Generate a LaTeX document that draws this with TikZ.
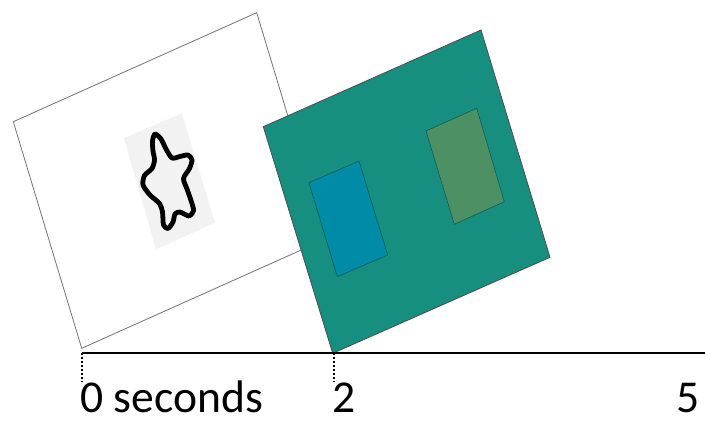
\documentclass[tikz,border=0pt]{standalone}
\usepackage{fontspec}
\setmainfont{Carlito}
\usepackage{xcolor}
\usepackage{tikz}
\usetikzlibrary{positioning, calc}

\definecolor{slidegreen}{RGB}{23,143,128}
\definecolor{boxblue}{RGB}{0,139,166}
\definecolor{boxgreen}{RGB}{76,144,100}
\definecolor{backgray}{RGB}{242,242,242}

\begin{document}
\begin{tikzpicture}[x=0.5pt, y=-0.5pt]
    \tikzstyle{frame} = [draw=black!55, line width=0.4pt, fill=white]
    \tikzstyle{slide} = [draw=black!70, line width=0.4pt, fill=slidegreen]
    \tikzstyle{inner} = [draw=black!35!slidegreen, line width=0.3pt]
    \tikzstyle{axis} = [line width=1pt]
    \tikzstyle{tick} = [line width=1pt, dash pattern=on 1pt off 1pt]
    \tikzstyle{label} = [inner sep=0pt, anchor=base west, text depth=0pt, font=\fontsize{22.8}{27}\selectfont]

    \useasboundingbox (0,0) rectangle (705,421);

    % first frame with the star
    \draw[frame] (81.7,348.3) -- (13.3,121.7) -- (256.7,12.7) -- (325.1,239.3) -- cycle;
    \fill[backgray] (124,138.3) -- (181.7,113.3) -- (215,222.7) -- (156,249.3) -- cycle;
    \draw[line width=2.4pt, line join=round] plot[smooth cycle, tension=0.45] coordinates {
        (155,134) (161,139) (166,149) (172,158) (180,156.5) (188,155) (192,160)
        (189.5,168.5) (183.5,178.5) (187,189) (191.5,202) (193.5,210.5) (189,216)
        (180,212) (175,214) (173,222) (168,228.5) (163.5,225) (162.5,212)
        (159.5,203.5) (150,195) (143,185) (144.5,175.5) (152,168.5) (154.5,160)
        (153,151) (152.5,141)};

    % second frame
    \draw[slide] (332.7,353.3) -- (263.3,126.7) -- (481,30) -- (550,257.3) -- cycle;
    \draw[inner, fill=boxblue] (309,182.7) -- (359,161) -- (387.7,255) -- (337.3,276.7) -- cycle;
    \draw[inner, fill=boxgreen] (426,131) -- (476.7,108.3) -- (504.3,201.7) -- (454.3,224.3) -- cycle;

    % time line
    \coordinate (t0) at (81.7,353.3);
    \coordinate (t2) at (333.5,353.3);
    \coordinate (tend) at (705,353.3);
    \draw[axis] (t0) -- (tend);
    \draw[tick] (t0) -- ++(0,29);
    \draw[tick] (t2) -- ++(0,29);

    \node[label] (zero) at (80,412) {0 seconds};
    \node[label] (two) at (332,412) {2};
    \node[label] (five) at (676,412) {5};
\end{tikzpicture}
\end{document}
